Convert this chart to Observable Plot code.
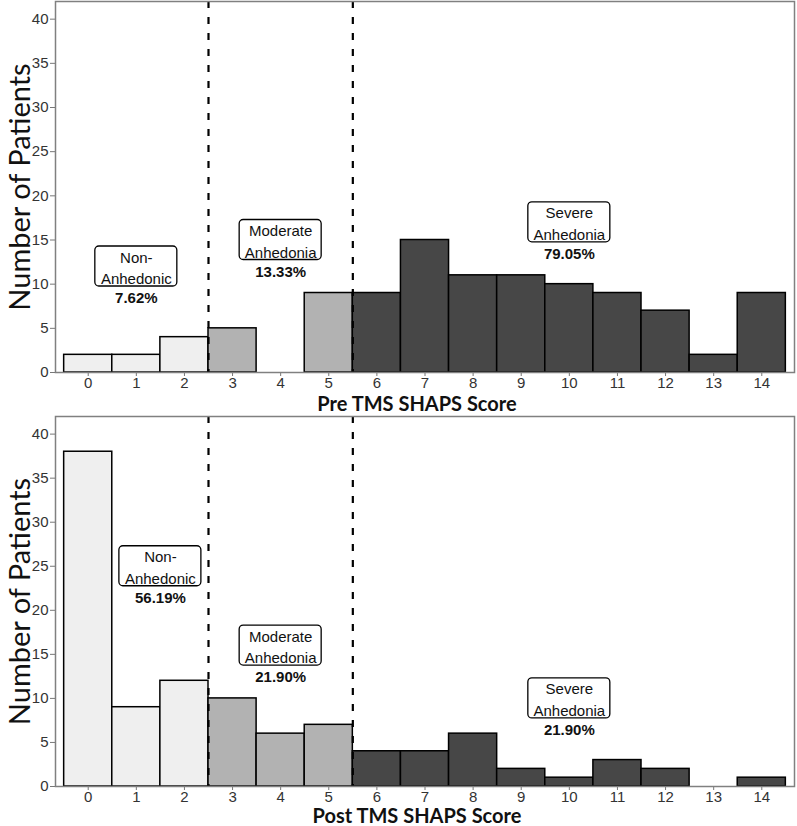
<!DOCTYPE html>
<html>
<head>
<meta charset="utf-8">
<script src="https://cdn.jsdelivr.net/npm/d3@7"></script>
<script src="https://cdn.jsdelivr.net/npm/@observablehq/plot@0.6"></script>
<style>
  html, body { margin: 0; padding: 0; background: #fff; }
  #chart svg { display: block; }
</style>
</head>
<body>
<div id="chart"></div>
<script>
// ---- data ----
const scores = [0, 1, 2, 3, 4, 5, 6, 7, 8, 9, 10, 11, 12, 13, 14];
const preCounts  = [2, 2, 4, 5, 0, 9, 9, 15, 11, 11, 10, 9, 7, 2, 9];
const postCounts = [38, 9, 12, 10, 6, 7, 4, 4, 6, 2, 1, 3, 2, 0, 1];
const cutoffs = [2.5, 5.5];
const groupNames = ["Non-Anhedonic", "Moderate Anhedonia", "Severe Anhedonia"];
const groupLabels = ["Non-\nAnhedonic", "Moderate\nAnhedonia", "Severe\nAnhedonia"];
const prePercents  = ["7.62%", "13.33%", "79.05%"];
const postPercents = ["56.19%", "21.90%", "21.90%"];
const preLabelX  = [1, 4, 10];
const preLabelY  = [12, 15, 17];
const postLabelX = [1.5, 4, 10];
const postLabelY = [25, 16, 10];
const yTicks = [0, 5, 10, 15, 20, 25, 30, 35, 40];
const xTitles = ["Pre TMS SHAPS Score", "Post TMS SHAPS Score"];
const yTitle = "Number of Patients";

const groupOf = s => s <= cutoffs[0] ? groupNames[0] : s <= cutoffs[1] ? groupNames[1] : groupNames[2];

function panel(counts, labelX, labelY, percents, xTitle, dims) {
  const bars = scores.map((s, i) => ({score: s, count: counts[i], group: groupOf(s)}));
  const notes = groupLabels.map((l, i) => ({label: l, x: labelX[i], y: labelY[i], pct: percents[i]}));
  return Plot.plot({
    width: 797,
    height: dims.height,
    marginLeft: 55,
    marginRight: 3,
    marginTop: dims.top,
    marginBottom: dims.bottom,
    style: {fontFamily: "'Liberation Sans', Arial, sans-serif", fontSize: "14px", background: "white", overflow: "visible"},
    x: {domain: [-0.68, 14.68], label: null},
    y: {domain: [0, 42], label: null},
    color: {domain: groupNames, range: ["#efefef", "#b2b2b2", "#474747"]},
    marks: [
      Plot.rectY(bars, {x1: d => d.score - 0.5, x2: d => d.score + 0.5, y1: 0, y2: "count", fill: "group", stroke: "black", strokeWidth: 1.5}),
      Plot.ruleX(cutoffs, {stroke: "black", strokeWidth: 2.2, strokeDasharray: "7,9"}),
      Plot.rect(notes, {x1: "x", x2: "x", y1: "y", y2: "y", insetLeft: -41, insetRight: -41, insetTop: -20, insetBottom: -20, rx: 4, fill: "white", stroke: "black", strokeWidth: 1.3}),
      Plot.text(notes, {x: "x", y: "y", text: "label", lineHeight: 1.45, lineAnchor: "middle", fontSize: 15, fill: "#111"}),
      Plot.text(notes, {x: "x", y: "y", text: "pct", dy: 32, fontSize: 15, fontWeight: "bold", fill: "#111"}),
      Plot.axisY({ticks: yTicks, tickSize: 5, tickPadding: 2, stroke: "#777", fill: "#333", fontSize: 15, label: null}),
      Plot.axisX({ticks: scores, tickSize: 4, tickPadding: 1, stroke: "#777", fill: "#333", fontSize: 15, label: null}),
      Plot.frame({stroke: "#808080", strokeWidth: 1.5}),
      Plot.text([xTitle], {frameAnchor: "bottom", dy: dims.titleDy, dx: -8, text: d => d, fontFamily: "Lato, sans-serif", fontWeight: "bold", fontSize: 20, fill: "#111", lineAnchor: "middle", textAnchor: "middle"}),
      Plot.text([yTitle], {frameAnchor: "left", dx: -35, rotate: -90, text: d => d, fontFamily: "Lato, sans-serif", fontSize: 29, fill: "#111", lineAnchor: "middle", textAnchor: "middle"})
    ]
  });
}

const chart = document.getElementById("chart");
chart.append(panel(preCounts, preLabelX, preLabelY, prePercents, xTitles[0], {height: 414, top: 1, bottom: 42, titleDy: 32}));
chart.append(panel(postCounts, postLabelX, postLabelY, postPercents, xTitles[1], {height: 412, top: 2, bottom: 40, titleDy: 30.5}));
</script>
</body>
</html>
